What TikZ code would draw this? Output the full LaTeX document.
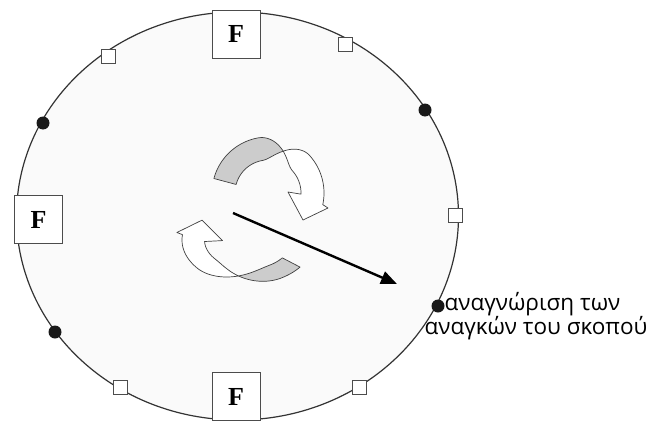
\documentclass[tikz,border=0pt]{standalone}
\usepackage{fontspec}
\setmainfont{Liberation Serif}
\newfontfamily\greekfont{Open Sans}
\usetikzlibrary{arrows.meta}
\begin{document}
\begin{tikzpicture}[x=1pt,y=-1pt,
  fbox/.style={draw=black!70, line width=0.8pt, fill=white, minimum width=48pt, minimum height=48pt, inner sep=0pt, font=\fontsize{26}{26}\selectfont\bfseries},
  sqm/.style={draw=black!70, line width=0.8pt, fill=white, minimum size=14pt, inner sep=0pt},
  dotm/.style={circle, fill=black!90, minimum size=13pt, inner sep=0pt},
  ribgray/.style={fill=black!20, draw=black!75, line width=0.7pt, line join=round},
  ribwhite/.style={fill=white, draw=black!75, line width=0.7pt, line join=round},
  lbl/.style={font=\greekfont\fontsize{22.5}{27}\selectfont, inner sep=0pt, anchor=base},
  declare function={sg(\t)=sin(min(\t-70,30)*3); sw(\t)=-sin(min(70-\t,28)*3.2143);
                    lg(\t)=sin(min(\t+100,40)*2.25); lw(\t)=-sin(min(-100-\t,40)*2.25);}
]
\useasboundingbox (0,0) rectangle (648,423);
% ring
\draw[line width=1.2pt, draw=black!80, fill=black!2] (237.5,216) ellipse [x radius=221pt, y radius=204pt];

% upper circular arrow
\begin{scope}[shift={(268,193)}]
\filldraw[ribgray] plot[domain=165:70,samples=50] ({(44.5+11.5*sg(\x))*cos(\x)},{-(44.5+11.5*sg(\x))*sin(\x)})
  -- plot[domain=70:165,samples=50] ({(44.5-11.5*sg(\x))*cos(\x)},{-(44.5-11.5*sg(\x))*sin(\x)}) -- cycle;
\filldraw[ribwhite] plot[domain=70:-12,samples=50] ({(44.5-11.5*sw(\x))*cos(\x)},{-(44.5-11.5*sw(\x))*sin(\x)})
  -- (60,15) -- (35,27) -- (20,-1)
  -- plot[domain=-2:70,samples=50] ({(44.5+11.5*sw(\x))*cos(\x)},{-(44.5+11.5*sw(\x))*sin(\x)}) -- cycle;
\end{scope}

% lower circular arrow
\begin{scope}[shift={(248,240)}, xscale=1.5]
\filldraw[ribgray] plot[domain=-38:-100,samples=40] ({(36.5+7.5*lg(\x))*cos(\x)},{-(36.5+7.5*lg(\x))*sin(\x)})
  -- plot[domain=-100:-38,samples=40] ({(36.5-7.5*lg(\x))*cos(\x)},{-(36.5-7.5*lg(\x))*sin(\x)}) -- cycle;
\filldraw[ribwhite] plot[domain=-100:-187,samples=40] ({(36.5-7.5*lw(\x))*cos(\x)},{-(36.5-7.5*lw(\x))*sin(\x)})
  -- ({48*cos(-189)},{-48*sin(-189)}) -- ({36.5*cos(-213)},{-36.5*sin(-213)}) -- ({17*cos(-178)},{-17*sin(-178)})
  -- plot[domain=-177:-100,samples=40] ({(36.5+7.5*lw(\x))*cos(\x)},{-(36.5+7.5*lw(\x))*sin(\x)}) -- cycle;
\end{scope}

% main arrow
\coordinate (a0) at (233,213);
\coordinate (a1) at (397,284);
\draw[line width=2.4pt, -{Triangle[length=16pt,width=13pt]}] (a0) -- (a1);

% F boxes
\node[fbox] (ftop) at (236,34) {F};
\node[fbox] (fleft) at (38.5,219.5) {F};
\node[fbox] (fbot) at (236,396.5) {F};

% small squares
\node[sqm] (s1) at (108,56.5) {};
\node[sqm] (s2) at (345.5,44) {};
\node[sqm] (s3) at (455,215) {};
\node[sqm] (s4) at (120,387) {};
\node[sqm] (s5) at (359,387) {};

% dots
\node[dotm] (d1) at (43,123) {};
\node[dotm] (d2) at (425,110) {};
\node[dotm] (d3) at (55,332) {};
\node[dotm] (d4) at (438,306) {};

% label
\node[lbl] (t1) at (532.5,310) {αναγνώριση των};
\node[lbl] (t2) at (536,334) {αναγκών του σκοπού};
\end{tikzpicture}
\end{document}
